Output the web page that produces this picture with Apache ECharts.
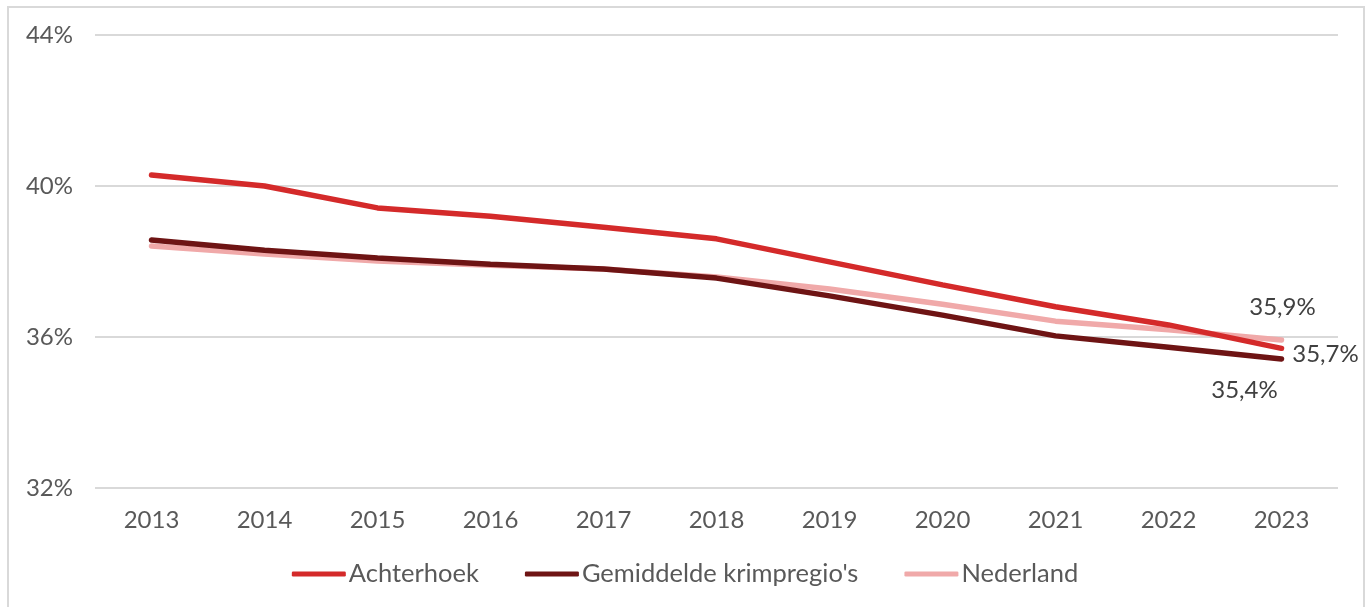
<!DOCTYPE html>
<html><head><meta charset="utf-8">
<script src="https://cdn.jsdelivr.net/npm/echarts@6/dist/echarts.min.js"></script>
<style>html,body{margin:0;padding:0;background:#fff}#wrap{position:absolute;left:7px;top:6px;width:1358px;height:610px;border:2px solid #d9d9d9;box-sizing:border-box}#c{position:absolute;left:0;top:0;width:1370px;height:607px}</style>
</head><body><div id="wrap"></div><div id="c"></div>
<script>
const years = ['2013','2014','2015','2016','2017','2018','2019','2020','2021','2022','2023'];
const achterhoek = [40.29,40.0,39.42,39.2,38.91,38.6,37.99,37.38,36.8,36.32,35.7];
const krimp = [38.57,38.3,38.09,37.93,37.8,37.56,37.09,36.58,36.03,35.73,35.42];
const nederland = [38.41,38.2,38.01,37.9,37.8,37.59,37.27,36.87,36.42,36.19,35.92];
const names = ['Achterhoek',"Gemiddelde krimpregio's",'Nederland'];
const colors = ['#D42A2A','#6E1414','#F0A9A9'];
const font = 'Lato, "Open Sans", sans-serif';
const fmt = v => v.toFixed(1).replace('.', ',') + '%';
const labelOffsets = [[44,6],[-37,31],[1,-33]];
function mk(i, data){
  return {
    name: names[i], type: 'line', symbol: 'circle', symbolSize: 1, showSymbol: true,
    data: data.map((v, k) => k === data.length - 1 ? {value: v, label: {show: true}} : v),
    lineStyle: {width: 5.5, color: colors[i], cap: 'round'}, itemStyle: {color: colors[i]},
    z: i===2 ? 1 : (i===1 ? 2 : 3),
    label: {show: false, position: 'inside', offset: labelOffsets[i], align: 'center', verticalAlign: 'middle',
      color: '#404040', fontFamily: font, fontSize: 24, formatter: p => fmt(p.value)}
  };
}
const chart = echarts.init(document.getElementById('c'));
chart.setOption({
  animation: false,
  grid: {left: 95, right: 32, top: 35, bottom: 119},
  legend: {top: 556, left: 'center', itemWidth: 54, itemHeight: 5, itemGap: 46, icon: 'roundRect',
    textStyle: {color: '#595959', fontFamily: font, fontSize: 25.5, padding: [0,0,0,-2]}, data: names},
  xAxis: {type: 'category', data: years, boundaryGap: true,
    axisLine: {show: false}, axisTick: {show: false},
    axisLabel: {color: '#595959', fontFamily: font, fontSize: 24, margin: 20}},
  yAxis: {type: 'value', min: 32, max: 44, interval: 4,
    axisLabel: {color: '#595959', fontFamily: font, fontSize: 24, margin: 22, formatter: v => v + '%'},
    splitLine: {lineStyle: {color: '#d9d9d9', width: 2}}},
  series: [mk(2, nederland), mk(1, krimp), mk(0, achterhoek)]
});
</script></body></html>
